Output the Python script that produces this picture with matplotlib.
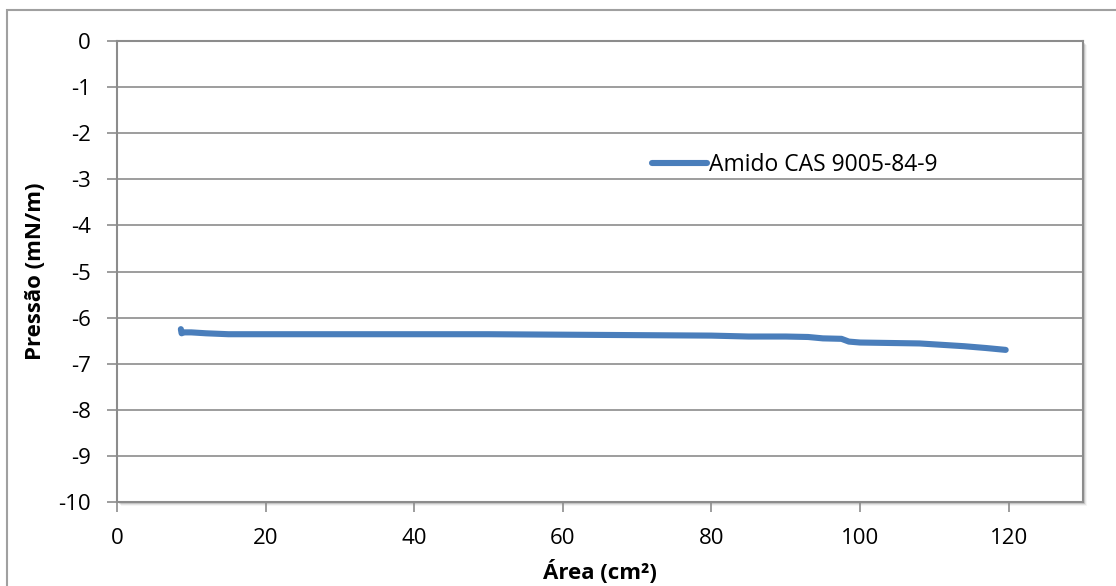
import matplotlib.pyplot as plt
from matplotlib.patches import Rectangle

# data
area = [8.6, 8.7, 9.0, 10.0, 12.0, 15.0, 20.0, 30.0, 40.0, 50.0, 60.0, 70.0,
        80.0, 85.0, 90.0, 93.0, 95.0, 97.5, 98.5, 100.0, 104.0, 108.0,
        111.0, 114.0, 117.0, 119.6]
pressao = [-6.25, -6.34, -6.32, -6.32, -6.34, -6.36, -6.36, -6.36, -6.36, -6.36,
           -6.37, -6.38, -6.39, -6.41, -6.41, -6.42, -6.45, -6.46, -6.52, -6.54,
           -6.55, -6.56, -6.59, -6.62, -6.66, -6.70]
x_ticks = [0, 20, 40, 60, 80, 100, 120]
y_ticks = list(range(-10, 1))
serie = "Amido CAS 9005-84-9"

plt.rcParams["font.family"] = ["Open Sans", "DejaVu Sans"]
plt.rcParams["axes.unicode_minus"] = False

fig = plt.figure(figsize=(11.16, 5.86), dpi=100)
ax = fig.add_axes([0.1048, 0.1433, 0.8656, 0.7867])

# outer chart border and plot area shadow
fig.patches.append(Rectangle((7 / 1116, -0.05), 1.1, 1 - 10 / 586 + 0.05,
                             transform=fig.transFigure, fill=False,
                             edgecolor="#a0a0a0", linewidth=1.5))
for i, a in enumerate([0.18, 0.12, 0.07, 0.04]):
    fig.patches.append(Rectangle((0.1048 + (i + 1) / 1116, 0.1433 - (i + 1) / 586),
                                 0.8656, 0.7867, transform=fig.transFigure,
                                 facecolor="black", alpha=a, edgecolor="none",
                                 zorder=-1))
ax.set_facecolor("white")

ax.plot(area, pressao, color="#4A7EBB", linewidth=4.4, solid_capstyle="round",
        label=serie)

ax.set_xlim(0, 130)
ax.set_ylim(-10, 0)
ax.set_xticks(x_ticks)
ax.set_yticks(y_ticks)
ax.yaxis.grid(True, color="#8c8c8c", linewidth=1.2)
ax.set_axisbelow(True)
for s in ax.spines.values():
    s.set_color("#8c8c8c")
    s.set_linewidth(1.5)
ax.tick_params(axis="both", labelsize=16, color="#8c8c8c", length=7, width=1.2,
               pad=12)

ax.set_xlabel("Área (cm²)", fontsize=16, fontweight="bold")
ax.set_ylabel("Pressão (mN/m)", fontsize=16, fontweight="bold")
ax.xaxis.set_label_coords(0.5, -0.152)
ax.yaxis.set_label_coords(-0.084, 0.5)
ax.xaxis.label.set_verticalalignment("center")
ax.yaxis.label.set_verticalalignment("center")

ax.legend(loc="center left", bbox_to_anchor=(0.533, 0.73), frameon=False,
          fontsize=16.5, handlelength=2.4, handletextpad=0.05)

fig.savefig("out.png", dpi=100)
